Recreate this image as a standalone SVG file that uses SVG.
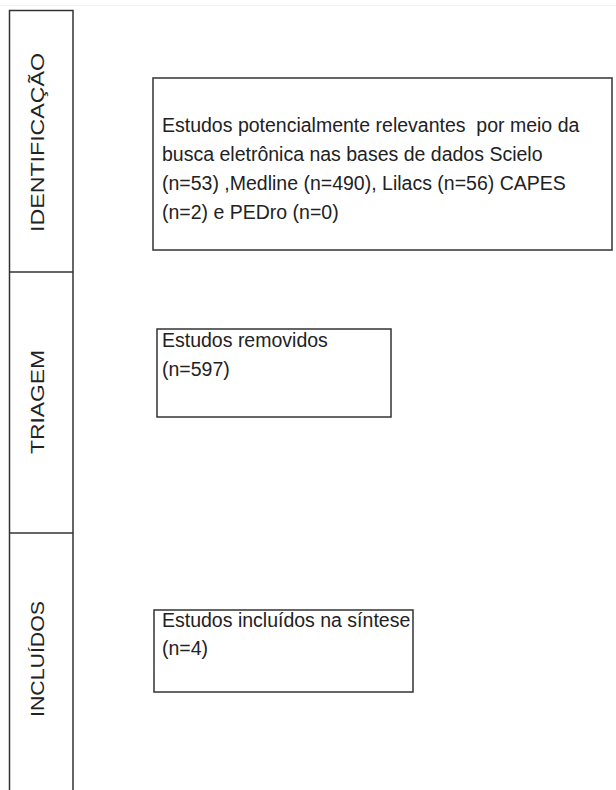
<svg xmlns="http://www.w3.org/2000/svg" width="616" height="790" viewBox="0 0 616 790">
<style>
.box{fill:#fff;stroke:#333;stroke-width:1.5}
.col{fill:none;stroke:#333;stroke-width:1.5}
.t{font-family:"Liberation Sans",Arial,sans-serif;font-size:19.5px;fill:#222;white-space:pre}
.lab{font-family:"Liberation Sans",Arial,sans-serif;font-size:19px;fill:#222;text-anchor:middle}
</style>
<rect x="0" y="0" width="616" height="790" fill="#fff"/>
<line x1="0" y1="5.5" x2="616" y2="5.5" stroke="#f2f2f2" stroke-width="1"/>
<g id="phases">
<path class="col" d="M9.5,790 V10.5 H73 V790"/>
<line class="col" x1="9.5" y1="272" x2="73" y2="272"/>
<line class="col" x1="9.5" y1="533" x2="73" y2="533"/>
<g id="label-identificacao"><text class="lab" transform="translate(44,142.5) rotate(-90)" textLength="179" lengthAdjust="spacingAndGlyphs">IDENTIFICAÇÃO</text></g>
<g id="label-triagem"><text class="lab" transform="translate(44,402) rotate(-90)" textLength="104" lengthAdjust="spacingAndGlyphs">TRIAGEM</text></g>
<g id="label-incluidos"><text class="lab" transform="translate(44,659) rotate(-90)" textLength="116" lengthAdjust="spacingAndGlyphs">INCLUÍDOS</text></g>
</g>
<g id="node-identificacao">
<rect class="box" x="153" y="78" width="459" height="172"/>
<text class="t" x="162" y="132" xml:space="preserve">Estudos potencialmente relevantes  por meio da</text>
<text class="t" x="162" y="161">busca eletrônica nas bases de dados Scielo</text>
<text class="t" x="162" y="190">(n=53) ,Medline (n=490), Lilacs (n=56) CAPES</text>
<text class="t" x="162" y="219">(n=2) e PEDro (n=0)</text>
</g>
<g id="node-removidos">
<rect class="box" x="157" y="329" width="234" height="88"/>
<text class="t" x="162" y="347">Estudos removidos</text>
<text class="t" x="162" y="376">(n=597)</text>
</g>
<g id="node-incluidos">
<rect class="box" x="154" y="610" width="259" height="82"/>
<text class="t" x="162" y="627">Estudos incluídos na síntese</text>
<text class="t" x="162" y="655">(n=4)</text>
</g>
<g id="connectors"></g>
</svg>
